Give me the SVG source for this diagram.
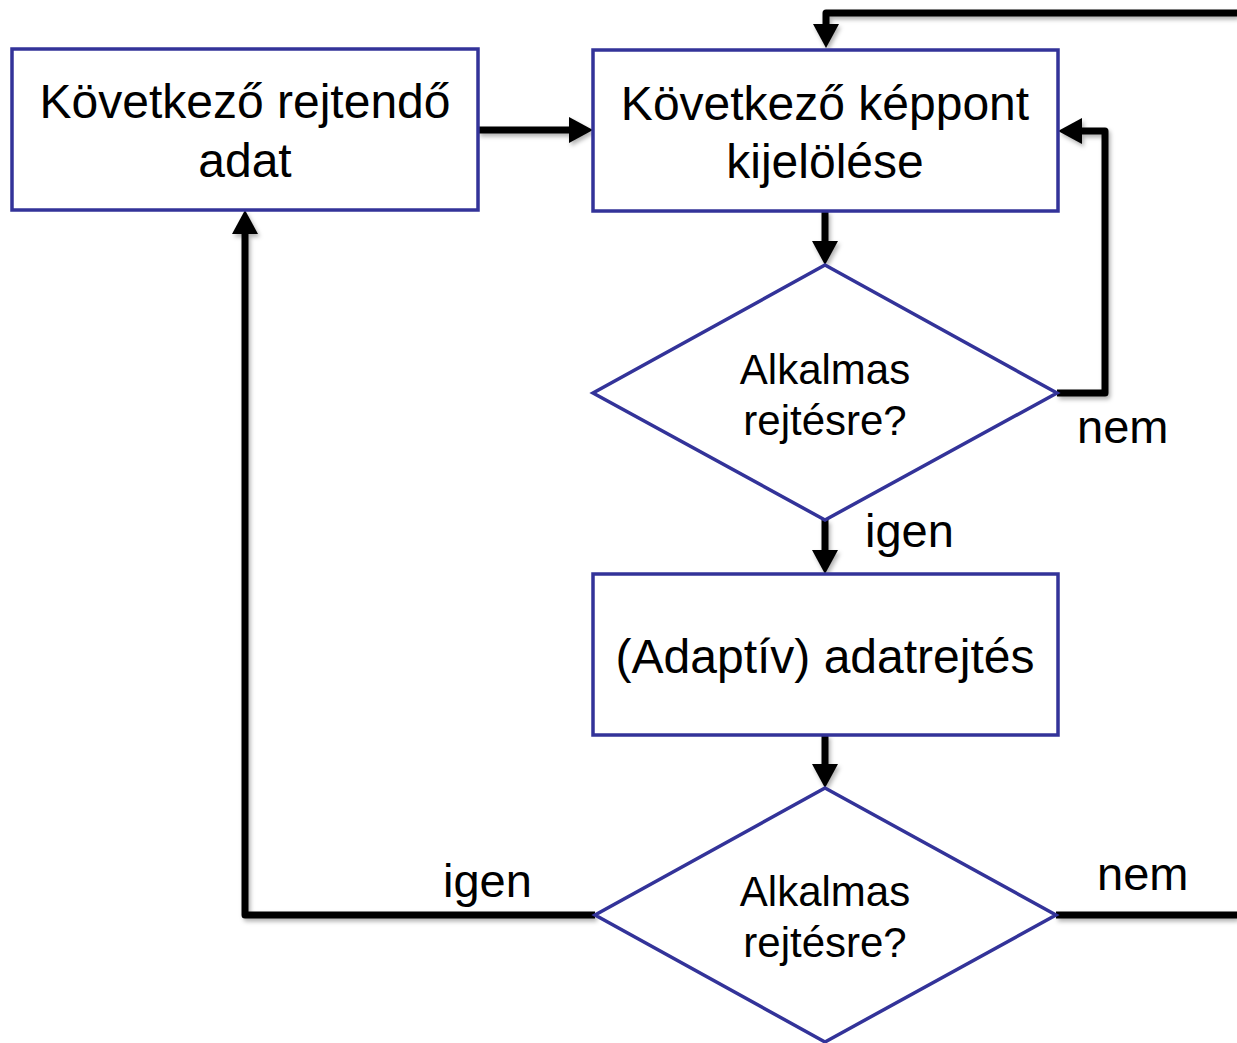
<svg xmlns="http://www.w3.org/2000/svg" width="1237" height="1043" viewBox="0 0 1237 1043">
<style>
.node{fill:#fff;stroke:#333399;stroke-width:3.5}
.t{font-family:"Liberation Sans",Arial,sans-serif;font-size:48px;fill:#000;text-anchor:middle}
.d{font-family:"Liberation Sans",Arial,sans-serif;font-size:42px;fill:#000;text-anchor:middle}
.lbl{font-family:"Liberation Sans",Arial,sans-serif;font-size:47px;fill:#000}
.c{fill:none;stroke:#000;stroke-width:7;stroke-linejoin:round}
</style>
<defs>
<filter id="sh" x="-5%" y="-5%" width="110%" height="110%">
<feDropShadow dx="2" dy="3" stdDeviation="2" flood-color="#000" flood-opacity="0.3"/>
</filter>
<marker id="ah" markerUnits="userSpaceOnUse" markerWidth="24" markerHeight="26" refX="0" refY="13" orient="auto">
<path d="M0,0 L24,13 L0,26 Z" fill="#000"/>
</marker>
</defs>
<g id="connectors" filter="url(#sh)">
<path class="c" d="M1237,13 L826,13 L826,24" marker-end="url(#ah)"/>
<path class="c" d="M478,130 L569,130" marker-end="url(#ah)"/>
<path class="c" d="M1057,393 L1105,393 L1105,131 L1082,131" marker-end="url(#ah)"/>
<path class="c" d="M825,211 L825,241" marker-end="url(#ah)"/>
<path class="c" d="M825,520 L825,550" marker-end="url(#ah)"/>
<path class="c" d="M825,735 L825,764" marker-end="url(#ah)"/>
<path class="c" d="M595,915 L245,915 L245,234" marker-end="url(#ah)"/>
<path class="c" d="M1056,915 L1237,915"/>
</g>
<g id="n1">
<rect class="node" x="12" y="49" width="466" height="161"/>
<text class="t" x="245" y="118">Következő rejtendő</text>
<text class="t" x="245" y="177">adat</text>
</g>
<g id="n2">
<rect class="node" x="593" y="50" width="465" height="161"/>
<text class="t" x="825" y="120">Következő képpont</text>
<text class="t" x="825" y="178">kijelölése</text>
</g>
<g id="n3">
<polygon class="node" points="825,265 1057,393 825,520 593,393"/>
<text class="d" x="825" y="384">Alkalmas</text>
<text class="d" x="825" y="435">rejtésre?</text>
</g>
<g id="n4">
<rect class="node" x="593" y="574" width="465" height="161"/>
<text class="t" x="825" y="673">(Adaptív) adatrejtés</text>
</g>
<g id="n5">
<polygon class="node" points="825,788 1056,915 825,1042 595,915"/>
<text class="d" x="825" y="906">Alkalmas</text>
<text class="d" x="825" y="957">rejtésre?</text>
</g>
<g id="labels">
<text class="lbl" x="1077" y="443">nem</text>
<text class="lbl" x="865" y="547">igen</text>
<text class="lbl" x="443" y="897">igen</text>
<text class="lbl" x="1097" y="890">nem</text>
</g>
</svg>
